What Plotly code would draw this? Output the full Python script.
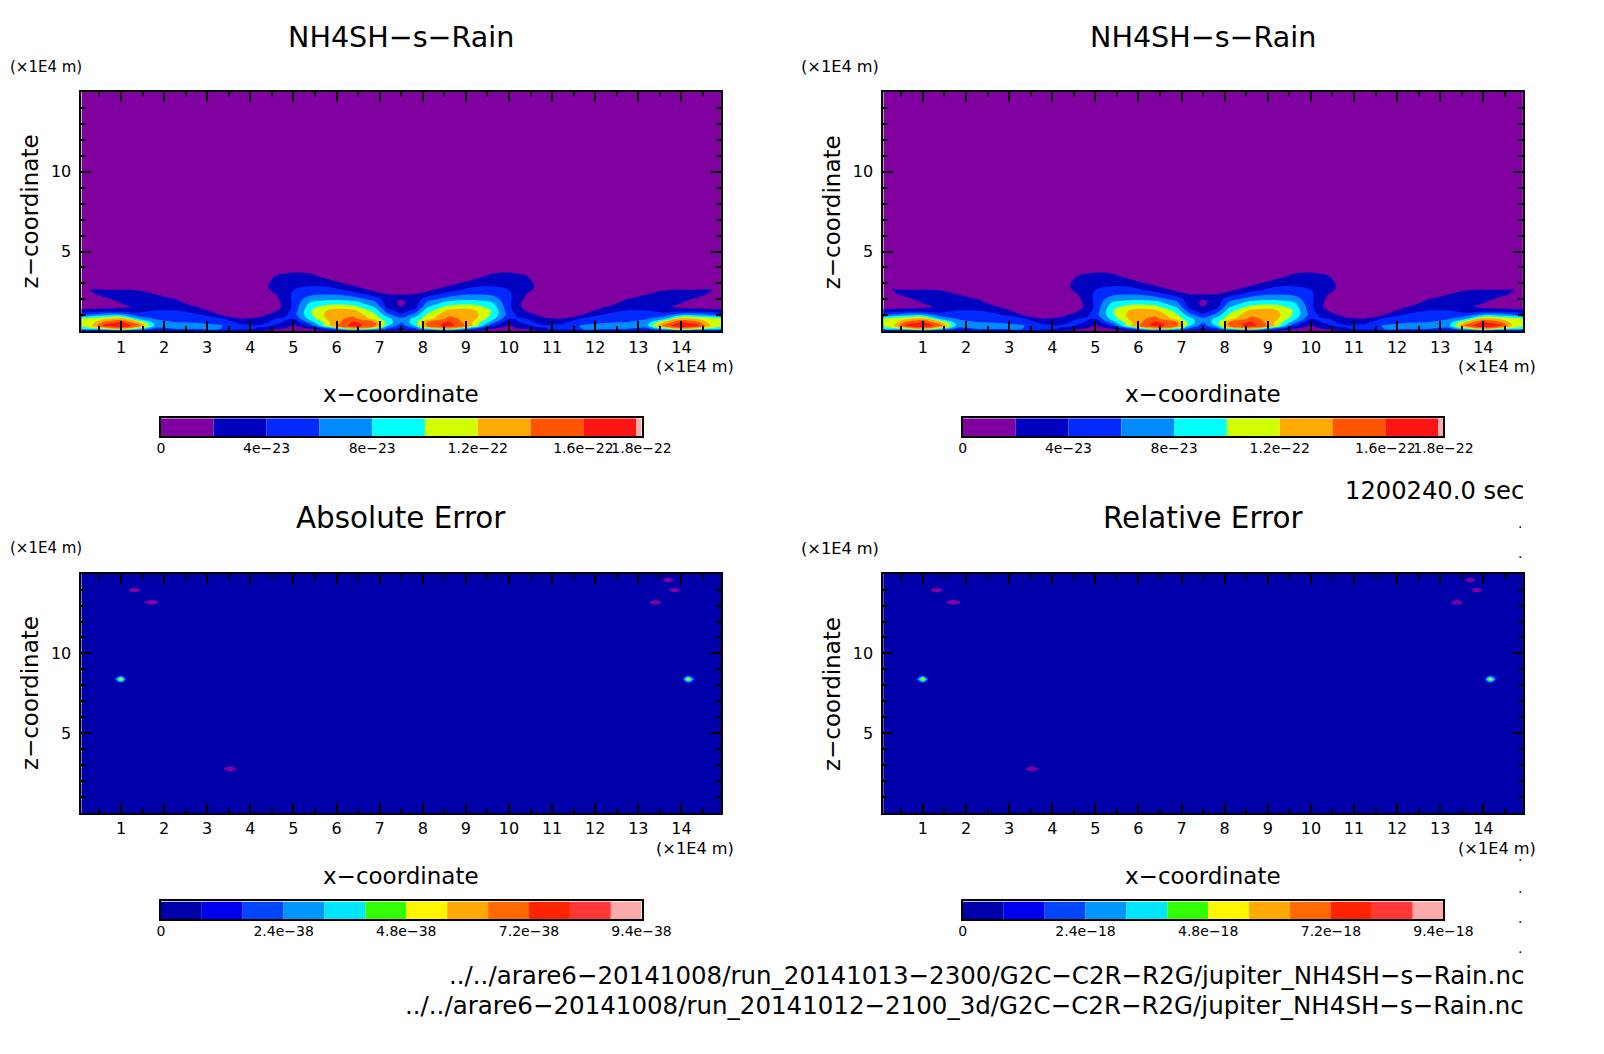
import numpy as np
import plotly.graph_objects as go

W, H = 1588, 1038
PAGE_MARGIN = 8

# rain mixing ratio, in units of 1e-23
rain_x = [0.08, 0.3, 0.6, 1.0, 1.4, 1.8, 2.3, 2.8, 3.3, 3.8, 4.2, 4.4, 4.6, 4.8, 5.0, 5.4, 5.9, 6.4, 6.9, 7.2, 7.5,
          7.8, 8.1, 8.6, 9.1, 9.6, 10.0, 10.2, 10.4, 10.6, 10.8, 11.2, 11.7, 12.2, 12.7, 13.2, 13.6, 14.0, 14.4, 14.7, 14.92]
rain_y = [0, 0.15, 0.35, 0.55, 0.8, 1.05, 1.3, 1.55, 1.8, 2.05, 2.3, 2.6, 2.9, 3.2, 3.5, 3.8, 4.2, 15]
rain_z = [
    [1, 1, 1, 1, 1, 1, 1.2, 1.5, 2.2, 2.2, 2, 1.5, 1, .8, .5, 1, 1, 1, .8, .8, .8,
     .8, .8, 1, 1, 1, .5, .8, 1, 1.5, 2, 2.2, 2.2, 1.5, 1.2, 1, 1, 1, 1, 1, 1],
    [8.5, 9.5, 10, 13, 9, 5, 6, 6, 6, 4.6, 3.8, 3, 2.2, 1.8, 1.2, 2, 6, 12, 9, 5, 3.5,
     5, 9, 12, 6, 2, 1.2, 1.8, 2.2, 3, 3.8, 4.6, 6, 6, 6, 5, 9, 13, 10, 9.5, 8.5],
    [10.5, 11.5, 16.5, 17.5, 15, 7.5, 6.6, 6.5, 6.2, 4.4, 4.2, 4.4, 3.6, 3, 1.6, 4.5, 13, 17, 14.5, 8, 5,
     8, 14.5, 17, 13, 4.5, 1.6, 3, 3.6, 4.4, 4.2, 4.4, 6.2, 6.5, 6.6, 7.5, 15, 17.5, 16.5, 11.5, 10.5],
    [11, 11, 14.5, 16.5, 12.5, 7, 6.1, 5.9, 5.2, 3.5, 3.4, 4, 4.5, 3.8, 2, 7, 12.5, 16.5, 14, 9, 6.2,
     9, 14, 16.5, 12.5, 7, 2, 3.8, 4.5, 4, 3.4, 3.5, 5.2, 5.9, 6.1, 7, 12.5, 16.5, 14.5, 11, 11],
    [10.2, 11, 11.5, 12.5, 7.5, 5.8, 5.2, 4.8, 4.2, 1.9, 2.4, 3, 4, 4.2, 4.2, 9, 13.3, 14.5, 11, 8.5, 6.4,
     8.5, 11, 14.5, 13.3, 9, 4.2, 4.2, 4, 3, 2.4, 1.9, 4.2, 4.8, 5.2, 5.8, 7.5, 12.5, 11.5, 11, 10.2],
    [4.8, 6, 7, 7, 5, 4.8, 4.6, 4.1, 1.9, 1, 1.2, 2, 2.8, 3.6, 5.2, 9.7, 13.5, 13.5, 10.2, 6.5, 4.4,
     6.5, 10.2, 13.5, 13.5, 9.7, 5.2, 3.6, 2.8, 2, 1.2, 1, 1.9, 4.1, 4.6, 4.8, 5, 7, 7, 6, 4.8],
    [2.6, 2.8, 3, 3, 3, 4, 4, 2.8, 1, .5, .5, 1.2, 1.9, 2.8, 4.8, 9.9, 12.7, 12.4, 9, 4.6, 3,
     4.6, 9, 12.4, 12.7, 9.9, 4.8, 2.8, 1.9, 1.2, .5, .5, 1, 2.8, 4, 4, 3, 3, 3, 2.8, 2.6],
    [1, .8, 1, 1.5, 2.4, 3.2, 3, 1.8, .5, .5, .5, 1, 1.4, 2.4, 4.5, 9.3, 11, 10.5, 7.6, 3, 2,
     3, 7.6, 10.5, 11, 9.3, 4.5, 2.4, 1.4, 1, .5, .5, .5, 1.8, 3, 3.2, 2.4, 1.5, 1, .8, 1],
    [.3, .4, .8, 2.1, 2.6, 2.8, 2.4, 1, .5, .5, .5, 1, 1.4, 2.6, 4.5, 8.2, 9, 8.8, 6.3, 2.6, 1.7,
     2.6, 6.3, 8.8, 9, 8.2, 4.5, 2.6, 1.4, 1, .5, .5, .5, 1, 2.4, 2.8, 2.6, 2.1, .8, .4, .3],
    [.3, .5, 1.5, 3, 2.8, 2.4, 1.9, .5, .5, .5, .5, 1.2, 1.7, 2.8, 4.5, 7, 7.5, 6.7, 5, 2.5, 2.1,
     2.5, 5, 6.7, 7.5, 7, 4.5, 2.8, 1.7, 1.2, .5, .5, .5, .5, 1.9, 2.4, 2.8, 3, 1.5, .5, .3],
    [.3, 1.5, 2.6, 3, 2.6, 2.05, 1, .5, .5, .5, .5, 1.4, 2, 3, 4.4, 5.7, 6, 5.2, 3, 2.1, 2,
     2.1, 3, 5.2, 6, 5.7, 4.4, 3, 2, 1.4, .5, .5, .5, .5, 1, 2.05, 2.6, 3, 2.6, 1.5, .3],
    [.3, 2.05, 2, 2, 1.9, 1, .5, .5, .5, .5, .5, 1.8, 2.6, 3.3, 4, 4.6, 4.6, 3.2, 1.5, 1, .7,
     1, 1.5, 3.2, 4.6, 4.6, 4, 3.3, 2.6, 1.8, .5, .5, .5, .5, .5, 1, 1.9, 2, 2, 2.05, .3],
    [.3, .3, .5, .5, .5, .5, .5, .5, .5, .5, .5, 1.9, 3, 3.4, 3.6, 3.8, 3.4, 1.7, .7, .5, .4,
     .5, .7, 1.7, 3.4, 3.8, 3.6, 3.4, 3, 1.9, .5, .5, .5, .5, .5, .5, .5, .5, .5, .3, .3],
    [.3, .3, .3, .3, .3, .3, .3, .3, .3, .3, .5, 1.5, 2.7, 3.1, 3.2, 3.1, 2, .8, .5, .5, .4,
     .5, .5, .8, 2, 3.1, 3.2, 3.1, 2.7, 1.5, .5, .3, .3, .3, .3, .3, .3, .3, .3, .3, .3],
    [.3, .3, .3, .3, .3, .3, .3, .3, .3, .3, .3, .8, 2, 2.4, 2.6, 2.3, 1, .5, .5, .5, .4,
     .5, .5, .5, 1, 2.3, 2.6, 2.4, 2, .8, .3, .3, .3, .3, .3, .3, .3, .3, .3, .3, .3],
    [.3, .3, .3, .3, .3, .3, .3, .3, .3, .3, .3, .3, 1, 1.2, 1.6, 1.5, .5, .5, .5, .5, .4,
     .5, .5, .5, .5, 1.5, 1.6, 1.2, 1, .3, .3, .3, .3, .3, .3, .3, .3, .3, .3, .3, .3],
    [.3, .3, .3, .3, .3, .3, .3, .3, .3, .3, .3, .3, .3, .4, .5, .4, .4, .4, .4, .4, .4,
     .4, .4, .4, .4, .4, .5, .4, .3, .3, .3, .3, .3, .3, .3, .3, .3, .3, .3, .3, .3],
    [.2, .2, .2, .2, .2, .2, .2, .2, .2, .2, .2, .2, .2, .2, .2, .2, .2, .2, .2, .2, .2,
     .2, .2, .2, .2, .2, .2, .2, .2, .2, .2, .2, .2, .2, .2, .2, .2, .2, .2, .2, .2],
]
rain_colors = ['#8000a0', '#0000c0', '#0028ff', '#008cff', '#00ffff', '#d2ff00', '#ffaa00', '#ff5500', '#ff1414', '#ffaaaa']
rain_edges = [0, 2, 4, 6, 8, 10, 12, 14, 16, 18, 18.2]
rain_tickvals = [0, 4, 8, 12, 16, 18.2]
rain_ticktext = ['0', '4e\u221223', '8e\u221223', '1.2e\u221222', '1.6e\u221222', '1.8e\u221222']

# error fields: a flat background with a few isolated spots
err_x = [0.08, 0.82, 1.0, 1.15, 1.3, 1.5, 1.72, 1.9, 3.35, 3.53, 3.71, 13.22, 13.4, 13.55, 13.69, 13.85, 14.0, 14.16, 14.34, 14.92]
err_y = [0, 2.58, 2.76, 2.94, 8.1, 8.39, 8.68, 13.02, 13.2, 13.38, 13.79, 13.97, 14.15, 14.42, 14.6, 14.78, 15]
spot_x = [1.3, 1.72, 13.69, 13.85, 13.4, 3.53, 1.0, 14.16]
spot_y = [13.97, 13.2, 14.6, 13.97, 13.2, 2.76, 8.39, 8.39]
spot_val = [-1, -1, -1, -1, -1, -1, 6, 6]
err_colors = ['#8000a0', '#0000aa', '#0000f0', '#0046ff', '#0096ff', '#00e6ff', '#32ff00', '#fff500', '#ffaa00', '#ff6900', '#ff2300', '#ff3737', '#ffaaaa']
err_edges = [0, 0.8, 1.6, 2.4, 3.2, 4.0, 4.8, 5.6, 6.4, 7.2, 8.0, 8.8, 9.4]
err_tickvals = [0, 2.4, 4.8, 7.2, 9.4]
abs_ticktext = ['0', '2.4e\u221238', '4.8e\u221238', '7.2e\u221238', '9.4e\u221238']
rel_ticktext = ['0', '2.4e\u221218', '4.8e\u221218', '7.2e\u221218', '9.4e\u221218']

titles = ['NH4SH\u2212s\u2212Rain', 'NH4SH\u2212s\u2212Rain', 'Absolute Error', 'Relative Error']
x_ticks = list(range(1, 15))
z_ticks = [5, 10]
time_label = '1200240.0 sec'
file_a = '../../arare6\u221220141008/run_20141013\u22122300/G2C\u2212C2R\u2212R2G/jupiter_NH4SH\u2212s\u2212Rain.nc'
file_b = '../../arare6\u221220141008/run_20141012\u22122100_3d/G2C\u2212C2R\u2212R2G/jupiter_NH4SH\u2212s\u2212Rain.nc'
dot_y = [517, 547, 845, 876, 906, 935]

FONT = 'DejaVu Sans'


# positions below are measured on the reference as displayed
def px_x(p):
    return ((p - 2.1) / 0.961 - PAGE_MARGIN) / W


def px_y(p):
    return 1 - ((p + 1.5) / 0.984 - PAGE_MARGIN) / H


def step_scale(colors):
    return [[i / (len(colors) - 1), c] for i, c in enumerate(colors)]


err_z = np.full((len(err_y), len(err_x)), 0.2)
for sx, sy, sv in zip(spot_x, spot_y, spot_val):
    err_z[err_y.index(sy), err_x.index(sx)] = sv

fig = go.Figure()
annotations = []


def text(x, y, s, size, anchor='center', angle=0):
    annotations.append(dict(x=px_x(x), y=px_y(y), xref='paper', yref='paper', text=s, showarrow=False,
                            xanchor=anchor, yanchor='middle', textangle=angle,
                            font=dict(family=FONT, size=size, color='black')))


# left, top, bar top, title offset, title size, unit label x
panels = [(78, 89, 410, 54, 28.6, 6, rain_x, rain_y, rain_z, rain_colors, 2, 18, 2, rain_edges, rain_tickvals, rain_ticktext, 0),
          (865.5, 89, 410, 54, 28.6, 783, rain_x, rain_y, rain_z, rain_colors, 2, 18, 2, rain_edges, rain_tickvals, rain_ticktext, 1),
          (78, 563, 885.5, 55, 29.4, 6, err_x, err_y, err_z, err_colors, 0, 8.8, 0.8, err_edges, err_tickvals, abs_ticktext, 2),
          (865.5, 563, 885.5, 55, 29.4, 783, err_x, err_y, err_z, err_colors, 0, 8.8, 0.8, err_edges, err_tickvals, rel_ticktext, 3)]

layout = {}
n = 1
for left, top, bar_top, title_dy, title_size, unit_x, gx, gy, gz, colors, lo, hi, step, edges, tvals, ttext, t in panels:
    right = left + 628
    bottom = top + 235.5
    xa, ya = ('x', 'y') if n == 1 else ('x%d' % n, 'y%d' % n)
    suffix = '' if n == 1 else str(n)
    fig.add_trace(go.Contour(x=gx, y=gy, z=gz, xaxis=xa, yaxis=ya, showscale=False, hoverinfo='skip',
                             autocontour=False, contours=dict(start=lo, end=hi, size=step, coloring='fill', showlines=False),
                             line=dict(width=0), colorscale=step_scale(colors)))
    layout['xaxis' + suffix] = dict(domain=[px_x(left), px_x(right)], anchor=ya, range=[0.083, 14.917],
                                    tickmode='array', tickvals=x_ticks, ticktext=[str(v) for v in x_ticks],
                                    ticks='inside', ticklen=10, tickwidth=2, tickcolor='black',
                                    minor=dict(ticks='inside', ticklen=5, tickwidth=2, tickcolor='black', tick0=0.5, dtick=1),
                                    showline=True, linewidth=2, linecolor='black', mirror='allticks',
                                    showgrid=False, zeroline=False, ticklabelstandoff=0,
                                    tickfont=dict(family=FONT, size=16, color='black'))
    layout['yaxis' + suffix] = dict(domain=[px_y(bottom), px_y(top)], anchor=xa, range=[0, 15],
                                    tickmode='array', tickvals=z_ticks, ticktext=[str(v) for v in z_ticks],
                                    ticks='inside', ticklen=10, tickwidth=2, tickcolor='black',
                                    minor=dict(ticks='inside', ticklen=5, tickwidth=2, tickcolor='black', tick0=0, dtick=1),
                                    showline=True, linewidth=2, linecolor='black', mirror='allticks',
                                    showgrid=False, zeroline=False, ticklabelstandoff=5,
                                    tickfont=dict(family=FONT, size=16, color='black'))
    n += 1

    # colour bar under the panel
    xa, ya = 'x%d' % n, 'y%d' % n
    suffix = str(n)
    fig.add_trace(go.Bar(x=np.diff(edges), base=edges[:-1], y=[0] * (len(edges) - 1), orientation='h', width=1,
                         marker=dict(color=colors if len(colors) == len(edges) - 1 else colors[1:], line=dict(width=0)),
                         xaxis=xa, yaxis=ya, hoverinfo='skip', showlegend=False))
    layout['xaxis' + suffix] = dict(domain=[px_x(left + 78), px_x(left + 550)], anchor=ya, range=[0, edges[-1]],
                                    tickmode='array', tickvals=tvals, ticktext=ttext, ticks='', showgrid=False, zeroline=False,
                                    showline=True, linewidth=2, linecolor='black', mirror=True, ticklabelstandoff=-2,
                                    tickangle=0, tickfont=dict(family=FONT, size=14, color='black'))
    layout['yaxis' + suffix] = dict(domain=[px_y(bar_top + 17.5), px_y(bar_top)], anchor=xa, range=[-0.5, 0.5],
                                    showticklabels=False, ticks='', showgrid=False, zeroline=False,
                                    showline=True, linewidth=2, linecolor='black', mirror=True)
    n += 1

    # texts around the panel
    mid = left + 314
    text(mid, top - title_dy, titles[t], title_size)
    text(unit_x, top - 25, '(\u00d71E4 m)', 15 if unit_x == 6 else 16.2, anchor='left')
    text(left + 643, top + 270, '(\u00d71E4 m)', 16.2, anchor='right')
    text(mid, top + 297, 'x\u2212coordinate', 23)
    text(left - 51, top + 118, 'z\u2212coordinate', 23, angle=-90)

text(1497, 482, time_label, 24.2, anchor='right')
text(1497, 958, file_a, 24.5, anchor='right')
text(1497, 988, file_b, 24.5, anchor='right')
for y in dot_y:
    text(1491, y - 4, '.', 14)

fig.update_layout(width=W, height=H, autosize=False, margin=dict(l=0, r=0, t=0, b=0), showlegend=False,
                  paper_bgcolor='white', plot_bgcolor='white', annotations=annotations, barmode='overlay', **layout)

fig.write_html("out.html")
